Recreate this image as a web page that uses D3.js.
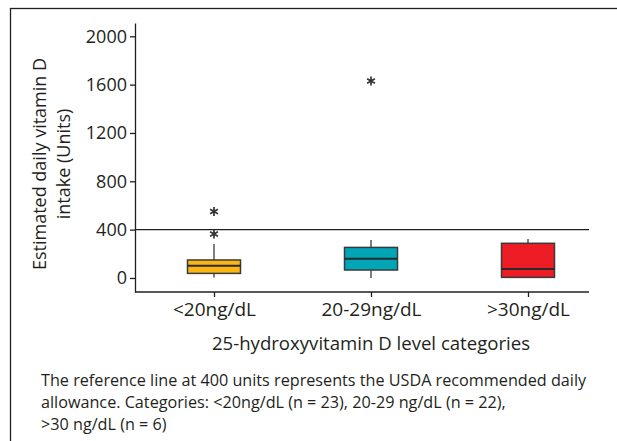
<!DOCTYPE html>
<html>
<head>
<meta charset="utf-8">
<script src="https://cdn.jsdelivr.net/npm/d3@7"></script>
<style>
  body { margin: 0; background: #fff; }
  text { font-family: "Open Sans", sans-serif; fill: #231f20; }
</style>
</head>
<body>
<script>
var width = 617,
    height = 441;

// data
var categories = ["<20ng/dL", "20-29ng/dL", ">30ng/dL"];
var whiskerLow = [5, 0, 0];
var q1 = [38, 66, 5];
var medians = [102, 160, 74];
var q3 = [149, 253, 287];
var whiskerHigh = [281, 315, 323];
var outliers = [[364, 551], [1630], []];
var colors = ["#fbb614", "#00a5b6", "#ee1c25"];
var yTicks = [0, 400, 800, 1200, 1600, 2000];
var refValue = 400;
var caption = [
    "The reference line at 400 units represents the USDA recommended daily",
    "allowance. Categories: <20ng/dL (n = 23), 20-29 ng/dL (n = 22),",
    ">30 ng/dL (n = 6)"
];

var plotLeft = 135, plotRight = 589, plotTop = 23, plotBottom = 292;

const svg = d3.select("body")
    .append("svg")
    .attr("width", width)
    .attr("height", height);

// outer frame
svg.append("rect")
    .attr("x", 10.5).attr("y", 8.5)
    .attr("width", 700).attr("height", 500)
    .attr("fill", "none")
    .attr("stroke", "#231f20")
    .attr("stroke-width", 1.3);

var y = d3.scaleLinear()
    .domain([-116, 2110])
    .range([plotBottom, plotTop]);

var x = d3.scalePoint()
    .domain(categories)
    .range([214, 528]);

var boxW = 53;

// y axis
var yAxis = svg.append("g")
    .attr("transform", "translate(" + plotLeft + ",0)")
    .call(d3.axisLeft(y).tickValues(yTicks).tickFormat(d3.format("d"))
        .tickSize(5).tickSizeOuter(0).tickPadding(3));
yAxis.selectAll("text").style("font-size", "18px");

// x axis
var xAxis = svg.append("g")
    .attr("transform", "translate(0," + plotBottom + ")")
    .call(d3.axisBottom(x).tickSize(5).tickSizeOuter(0).tickPadding(6));
xAxis.select(".domain").remove();
xAxis.append("line")
    .attr("x1", plotLeft).attr("x2", plotRight)
    .attr("stroke", "#231f20").attr("stroke-width", 1.3);
xAxis.selectAll("text").style("font-size", "19px");

svg.selectAll(".domain, .tick line")
    .attr("stroke", "#231f20")
    .attr("stroke-width", 1.3);
svg.selectAll(".tick text").attr("fill", "#231f20");

// reference line
svg.append("line")
    .attr("x1", plotLeft).attr("x2", plotRight)
    .attr("y1", y(refValue)).attr("y2", y(refValue))
    .attr("stroke", "#231f20")
    .attr("stroke-width", 1.3);

// boxes
var boxes = svg.append("g").selectAll("g")
    .data(categories)
    .enter().append("g");

boxes.append("line")
    .attr("x1", d => x(d)).attr("x2", d => x(d))
    .attr("y1", (d, i) => y(q3[i])).attr("y2", (d, i) => y(whiskerHigh[i]))
    .attr("stroke", "#3a3a3a").attr("stroke-width", 1.3);

boxes.append("line")
    .attr("x1", d => x(d)).attr("x2", d => x(d))
    .attr("y1", (d, i) => y(q1[i])).attr("y2", (d, i) => y(whiskerLow[i]))
    .attr("stroke", "#3a3a3a").attr("stroke-width", 1.3);

boxes.append("rect")
    .attr("x", d => x(d) - boxW / 2)
    .attr("width", boxW)
    .attr("y", (d, i) => y(q3[i]))
    .attr("height", (d, i) => y(q1[i]) - y(q3[i]))
    .attr("fill", (d, i) => colors[i])
    .attr("stroke", "#3a3a3a")
    .attr("stroke-width", 1.5);

boxes.append("line")
    .attr("x1", d => x(d) - boxW / 2).attr("x2", d => x(d) + boxW / 2)
    .attr("y1", (d, i) => y(medians[i])).attr("y2", (d, i) => y(medians[i]))
    .attr("stroke", "#2a2a2a").attr("stroke-width", 2);

// outliers as asterisks
function asterisk(r) {
    var p = d3.path();
    for (var k = 0; k < 3; k++) {
        var a = Math.PI / 2 + k * Math.PI / 3;
        p.moveTo(Math.cos(a) * r, Math.sin(a) * r);
        p.lineTo(-Math.cos(a) * r, -Math.sin(a) * r);
    }
    return p.toString();
}
var outPts = [];
outliers.forEach(function (list, i) {
    list.forEach(function (v) { outPts.push({ cat: categories[i], v: v }); });
});
svg.append("g").selectAll("path")
    .data(outPts)
    .enter().append("path")
    .attr("transform", d => "translate(" + x(d.cat) + "," + y(d.v) + ")")
    .attr("d", asterisk(4.5))
    .attr("stroke", "#333")
    .attr("stroke-width", 1.7)
    .attr("fill", "none");

// axis titles
var yTitle = svg.append("text")
    .attr("transform", "translate(0,164) rotate(-90)")
    .attr("text-anchor", "middle")
    .style("font-size", "18px");
yTitle.append("tspan").attr("x", 0).attr("y", 46).text("Estimated daily vitamin D");
yTitle.append("tspan").attr("x", 0).attr("y", 70).text("intake (Units)");

svg.append("text")
    .attr("x", 371).attr("y", 350)
    .attr("text-anchor", "middle")
    .style("font-size", "18.6px")
    .text("25-hydroxyvitamin D level categories");

// caption
svg.append("g").selectAll("text")
    .data(caption)
    .enter().append("text")
    .attr("x", 41)
    .attr("y", (d, i) => 386 + i * 22)
    .style("font-size", "16.2px")
    .text(d => d);
</script>
</body>
</html>
